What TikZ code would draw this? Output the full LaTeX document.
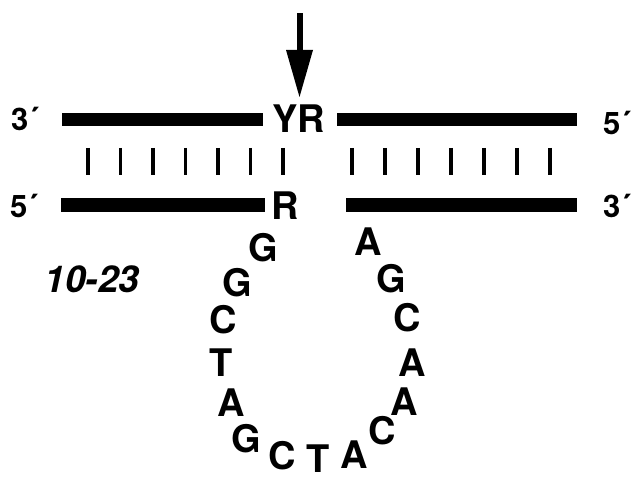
\documentclass[tikz,border=0pt]{standalone}
\usepackage{fontspec}
\setmainfont{TeX Gyre Heros}
\begin{document}
\begin{tikzpicture}[x=1pt,y=-1pt,
  base/.style={font=\fontsize{38}{38}\selectfont\bfseries, inner sep=0pt},
  endlab/.style={font=\fontsize{31}{31}\selectfont\bfseries, inner sep=0pt},
  namelab/.style={font=\fontsize{37}{37}\selectfont\bfseries\itshape, inner sep=0pt},
  strand/.style={fill=black},
  pair/.style={line width=3.2pt}]
\useasboundingbox (0,0) rectangle (631,478);
% strands
\fill[strand] (62,113.5) rectangle (263,126.5);
\fill[strand] (337,113.5) rectangle (577,126.5);
\fill[strand] (61,198) rectangle (265,212);
\fill[strand] (346,198) rectangle (577,212);
% base pairs
\foreach \x in {88,120.5,153,185.5,218,250.5,283,352,385,418,451,484,517,550}
  \draw[pair] (\x,148) -- (\x,175);
% cleavage arrow
\fill (297,13) rectangle (303,52);
\fill (286,50) -- (313,50) -- (299.5,97) -- cycle;
% end labels
\node[endlab] (t3) at (25,119) {3´};
\node[endlab] (t5) at (617,123) {5´};
\node[endlab] (b5) at (24,206) {5´};
\node[endlab] (b3) at (617,206) {3´};
% cleavage site
\node[base] (yr) at (298.5,118.5) {YR};
\node[base] (r) at (285.5,206) {R};
\node[namelab] (name) at (92,279) {10-23};
% loop
\node[base] (l1) at (263,248) {G};
\node[base] (l2) at (237,283) {G};
\node[base] (l3) at (223,320) {C};
\node[base] (l4) at (221,363) {T};
\node[base] (l5) at (231,403) {A};
\node[base] (l6) at (246,439) {G};
\node[base] (l7) at (282,456) {C};
\node[base] (l8) at (318,459) {T};
\node[base] (l9) at (354,455) {A};
\node[base] (l10) at (382,431) {C};
\node[base] (l11) at (404,402) {A};
\node[base] (l12) at (412,363) {A};
\node[base] (l13) at (407,318) {C};
\node[base] (l14) at (391,279) {G};
\node[base] (l15) at (368,242) {A};
\end{tikzpicture}
\end{document}
